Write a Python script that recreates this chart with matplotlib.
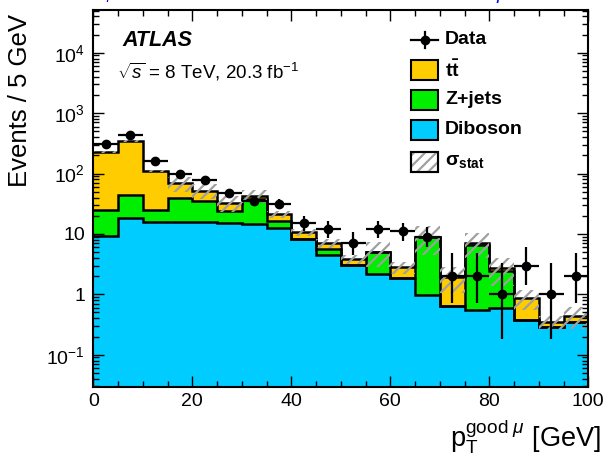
import numpy as np
import matplotlib
matplotlib.use("Agg")
import matplotlib.pyplot as plt
from matplotlib.patches import Rectangle
from matplotlib.lines import Line2D
from matplotlib.ticker import LogLocator, MultipleLocator, NullFormatter

plt.rcParams['font.family'] = ['Liberation Sans', 'DejaVu Sans']
plt.rcParams['mathtext.fontset'] = 'custom'
plt.rcParams['mathtext.rm'] = 'Liberation Sans'
plt.rcParams['mathtext.it'] = 'Liberation Sans:italic'
plt.rcParams['mathtext.bf'] = 'Liberation Sans:bold'
plt.rcParams['mathtext.sf'] = 'Liberation Sans'
plt.rcParams['hatch.linewidth'] = 1.6

# ---------------- data ----------------
bin_low = 0.0
bin_width = 5.0
n_bins = 20

diboson = [9.3, 18.5, 15.6, 15.9, 15.9, 15.0, 14.6, 12.4, 8.1, 4.48,
           3.05, 2.14, 1.88, 0.97, 0.64, 0.55, 0.59, 0.376, 0.284, 0.35]
zjets = [15.6, 25.5, 9.3, 24.1, 19.1, 9.0, 23.4, 4.1, 0.1, 1.12,
         0.0, 2.82, 0.0, 7.93, 0.0, 6.0, 1.84, 0.0, 0.0, 0.0]
ttbar = [205.1, 305.0, 86.1, 29.0, 17.0, 9.0, 5.0, 4.8, 2.4, 1.4,
         0.75, 0.09, 0.92, 0.1, 1.32, 0.61, 0.26, 0.484, 0.068, 0.09]
stat_err = [9.0, 12.0, 5.0, 20.0, 14.0, 10.0, 10.0, 3.0, 1.3, 1.1,
            0.6, 2.2, 0.6, 4.5, 0.9, 3.2, 1.3, 0.3, 0.09, 0.17]

data = [313, 430, 160, 100, 77, 48, 35, 31, 15, 12,
        7, 12, 11, 9, 2, 2, 1, 3, 1, 2]
data_err_lo = [17.7, 20.7, 12.6, 10.0, 8.8, 6.9, 5.9, 5.6, 3.8, 3.4,
               2.6, 3.4, 3.3, 3.0, 1.27, 1.27, 0.82, 1.6, 0.82, 1.27]
data_err_hi = [18.7, 21.7, 13.6, 11.0, 9.8, 7.9, 6.9, 6.6, 4.9, 4.6,
               3.8, 4.6, 4.4, 4.1, 2.77, 2.77, 2.3, 3.0, 2.3, 2.77]

ytick_values = [1e-1, 1, 10, 1e2, 1e3, 1e4]
ytick_labels = [r'$10^{-1}$', '1', '10', r'$10^{2}$', r'$10^{3}$', r'$10^{4}$']

legend_labels = ['Data', r'$\mathbf{t\bar{t}}$', 'Z+jets', 'Diboson', r'$\mathbf{\sigma_{stat}}$']

c_ttbar = '#FFCC00'
c_zjets = '#00EE00'
c_dib = '#00CCFF'
c_hatch = '#a0a0a0'

# ---------------- derived ----------------
edges = bin_low + bin_width * np.arange(n_bins + 1)
centers = 0.5 * (edges[:-1] + edges[1:])
dib = np.array(diboson)
cum_z = dib + np.array(zjets)
cum_t = cum_z + np.array(ttbar)
err = np.array(stat_err)

W, H = 607, 459
fig = plt.figure(figsize=(W / 100, H / 100), dpi=100)
L, R, T, B = 93.3, 588.3, 10.0, 387.0
ax = fig.add_axes([L / W, 1 - B / H, (R - L) / W, (B - T) / H])

floor = 1e-4
ax.stairs(dib, edges, baseline=floor, fill=True, color=c_dib, lw=0)
ax.stairs(cum_z, edges, baseline=dib, fill=True, color=c_zjets, lw=0)
ax.stairs(cum_t, edges, baseline=cum_z, fill=True, color=c_ttbar, lw=0)
for arr in (dib, cum_z, cum_t):
    ax.stairs(arr, edges, baseline=None, color='black', lw=1.8)

ax.bar(centers, 2 * err, bottom=cum_t - err, width=bin_width, fill=False,
       hatch='///', edgecolor=c_hatch, linewidth=0)

ax.errorbar(centers, data, xerr=bin_width / 2, yerr=[data_err_lo, data_err_hi],
            fmt='o', ms=6, color='black', elinewidth=1.6, capsize=0, zorder=5)

ax.set_yscale('log')
ax.set_xlim(0, 100)
ax.set_ylim(0.0292, 5.1e4)
ax.xaxis.set_major_locator(MultipleLocator(20))
ax.xaxis.set_minor_locator(MultipleLocator(5))
ax.set_yticks(ytick_values)
ax.set_yticklabels(ytick_labels)
ax.yaxis.set_minor_locator(LogLocator(base=10, subs=np.arange(2, 10)))
ax.yaxis.set_minor_formatter(NullFormatter())
ax.tick_params(which='both', direction='in', top=True, right=True, width=1.0)
ax.tick_params(which='major', length=8, labelsize=14)
ax.tick_params(which='minor', length=4)
ax.tick_params(axis='x', which='major', pad=4)
ax.tick_params(axis='y', which='major', pad=6)
for s in ax.spines.values():
    s.set_linewidth(1.5)

fig.text(601 / W, 1 - 446 / H, r'$\mathrm{p}_{\mathrm{T}}^{\mathrm{good}\ \mu}$ [GeV]',
         fontsize=19.5, ha='right', va='baseline')
fig.text(20 / W, 1 - 14 / H, 'Events / 5 GeV', rotation=90, ha='center', va='top', fontsize=18.5)


def ax_xy(px, py):
    return ((px - L) / (R - L), (B - py) / (B - T))


ax.text(*ax_xy(122, 40), 'ATLAS', transform=ax.transAxes, fontsize=15.5,
        fontweight='bold', fontstyle='italic', va='center', ha='left')
ax.text(*ax_xy(117, 72), r'$\sqrt{s}$ = 8 TeV, 20.3 fb$^{-1}$', transform=ax.transAxes,
        fontsize=13.5, va='center', ha='left')

# legend (manual)
bx0, bx1 = 411, 438
tx = 445
rows_y = [40, 70, 100, 130, 162]
x0, y0 = ax_xy(bx0, rows_y[0])
x1, _ = ax_xy(bx1, rows_y[0])
ax.add_line(Line2D([x0, x1], [y0, y0], transform=ax.transAxes, color='k', lw=1.6))
_, ya = ax_xy(bx0, rows_y[0] - 8)
_, yb = ax_xy(bx0, rows_y[0] + 8)
xm = 0.5 * (x0 + x1)
ax.add_line(Line2D([xm, xm], [ya, yb], transform=ax.transAxes, color='k', lw=1.6))
ax.plot([xm], [y0], 'o', ms=6, color='k', transform=ax.transAxes)
ax.text(*ax_xy(tx, rows_y[0]), legend_labels[0], transform=ax.transAxes, fontsize=14,
        fontweight='bold', va='center', ha='left')
fills = [c_ttbar, c_zjets, c_dib, 'white']
for i, (fc, lab) in enumerate(zip(fills, legend_labels[1:])):
    yc = rows_y[i + 1]
    xa, ya = ax_xy(bx0, yc + 10)
    xb, yb = ax_xy(bx1, yc - 10)
    ax.add_patch(Rectangle((xa, ya), xb - xa, yb - ya, transform=ax.transAxes,
                           facecolor=fc, edgecolor='black', lw=1.5, zorder=6))
    if fc == 'white':
        ax.add_patch(Rectangle((xa, ya), xb - xa, yb - ya, transform=ax.transAxes,
                               fill=False, hatch='///', edgecolor=c_hatch, lw=0, zorder=7))
        ax.add_patch(Rectangle((xa, ya), xb - xa, yb - ya, transform=ax.transAxes,
                               fill=False, edgecolor='black', lw=1.5, zorder=8))
    ax.text(*ax_xy(tx, yc), lab, transform=ax.transAxes, fontsize=14,
            fontweight='bold', va='center', ha='left')

# blue text clipped at the top edge, as in the reference
fig.text(97 / W, 1 - 5 / H, r'$\nu_\mu$', color='blue', fontsize=14, ha='left', va='bottom')
fig.text(496 / W, 1 - 5 / H, r'$\mu$', color='blue', fontsize=14, ha='left', va='bottom')

fig.savefig('out.png', dpi=100)
